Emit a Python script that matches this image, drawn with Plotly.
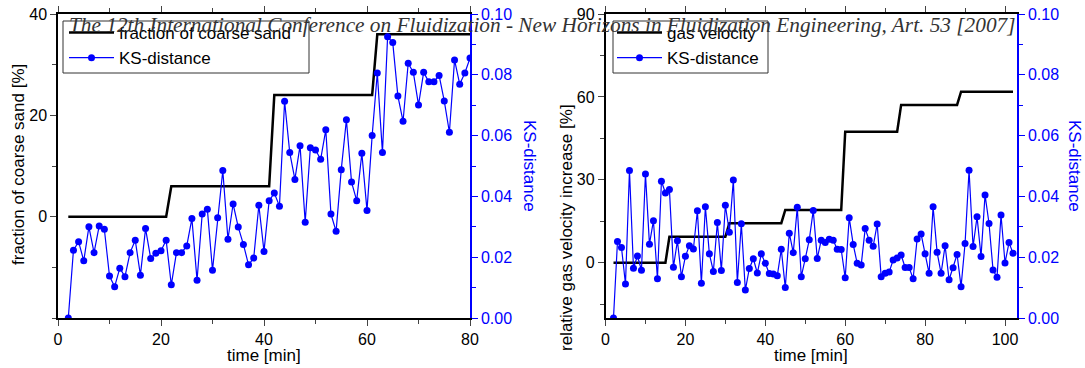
import plotly.graph_objects as go

W, H = 1085, 368

# ---- left panel: coarse sand fraction and KS-distance ----
sand_t = [2, 21, 22, 41, 42, 61, 62, 80]
sand_frac = [0, 0, 6, 6, 24, 24, 36, 36]

ks_left_t = list(range(2, 81))
ks_left = [
    0.0000, 0.0223, 0.0251, 0.0188, 0.0300, 0.0215, 0.0303, 0.0292, 0.0138, 0.0103,
    0.0164, 0.0136, 0.0215, 0.0256, 0.0141, 0.0294, 0.0196, 0.0213, 0.0221, 0.0256,
    0.0109, 0.0215, 0.0215, 0.0237, 0.0327, 0.0124, 0.0342, 0.0358, 0.0157, 0.0330,
    0.0485, 0.0259, 0.0375, 0.0299, 0.0242, 0.0175, 0.0197, 0.0371, 0.0219, 0.0386,
    0.0411, 0.0368, 0.0713, 0.0544, 0.0456, 0.0567, 0.0315, 0.0560, 0.0553, 0.0522,
    0.0619, 0.0342, 0.0285, 0.0488, 0.0652, 0.0447, 0.0386, 0.0542, 0.0354, 0.0600,
    0.0806, 0.0544, 0.0925, 0.0906, 0.0730, 0.0647, 0.0838, 0.0808, 0.0701, 0.0808,
    0.0777, 0.0777, 0.0798, 0.0714, 0.0611, 0.0849, 0.0769, 0.0806, 0.0855,
]

# ---- right panel: gas velocity increase and KS-distance ----
gas_t = [2, 15, 16, 30, 31, 44, 45, 59, 60, 73, 74, 88, 89, 102]
gas_inc = [0, 0, 9.4, 9.4, 14.3, 14.3, 19.1, 19.1, 47.4, 47.4, 57.1, 57.1, 61.9, 61.9]

ks_right_t = list(range(2, 103))
ks_right = [
    0.0000, 0.0252, 0.0232, 0.0112, 0.0485, 0.0164, 0.0204, 0.0157, 0.0474, 0.0243,
    0.0320, 0.0129, 0.0450, 0.0411, 0.0423, 0.0167, 0.0254, 0.0136, 0.0203, 0.0238,
    0.0227, 0.0353, 0.0114, 0.0366, 0.0211, 0.0153, 0.0314, 0.0156, 0.0371, 0.0282,
    0.0454, 0.0117, 0.0310, 0.0092, 0.0163, 0.0195, 0.0148, 0.0211, 0.0180, 0.0146,
    0.0145, 0.0139, 0.0226, 0.0100, 0.0279, 0.0215, 0.0364, 0.0136, 0.0195, 0.0257,
    0.0354, 0.0196, 0.0256, 0.0248, 0.0259, 0.0256, 0.0226, 0.0225, 0.0132, 0.0330,
    0.0242, 0.0180, 0.0174, 0.0294, 0.0256, 0.0236, 0.0309, 0.0136, 0.0147, 0.0151,
    0.0191, 0.0197, 0.0207, 0.0166, 0.0166, 0.0129, 0.0260, 0.0276, 0.0211, 0.0147,
    0.0366, 0.0216, 0.0147, 0.0238, 0.0126, 0.0165, 0.0209, 0.0103, 0.0245, 0.0486,
    0.0235, 0.0333, 0.0202, 0.0405, 0.0311, 0.0158, 0.0134, 0.0339, 0.0181, 0.0248,
    0.0213,
]

x_ticks_left = [0, 20, 40, 60, 80]
x_ticks_right = [0, 20, 40, 60, 80, 100]
y_ticks_left = [0, 20, 40]
y_ticks_right = [0, 30, 60, 90]
ks_ticks = [0.00, 0.02, 0.04, 0.06, 0.08, 0.10]

HEADER = ("The 12th International Conference on Fluidization - New Horizons in "
          "Fluidization Engineering, Art. 53 [2007]")

BLUE = "#0000ff"
SANS = "Liberation Sans, Arial, sans-serif"


def px(x):
    return x / W


def py(y):
    return 1 - y / H


fig = go.Figure()

fig.add_trace(go.Scatter(
    x=sand_t, y=sand_frac, xaxis="x", yaxis="y", mode="lines",
    line=dict(color="black", width=2.5), name="fraction of coarse sand",
    legend="legend", legendgroup="a",
))
fig.add_trace(go.Scatter(
    x=ks_left_t, y=ks_left, xaxis="x", yaxis="y2", mode="lines+markers",
    line=dict(color=BLUE, width=1.2), marker=dict(color=BLUE, size=7),
    name="KS-distance", legend="legend", legendgroup="b",
))
fig.add_trace(go.Scatter(
    x=gas_t, y=gas_inc, xaxis="x2", yaxis="y3", mode="lines",
    line=dict(color="black", width=2.5), name="gas velocity",
    legend="legend2", legendgroup="c",
))
fig.add_trace(go.Scatter(
    x=ks_right_t, y=ks_right, xaxis="x2", yaxis="y4", mode="lines+markers",
    line=dict(color=BLUE, width=1.2), marker=dict(color=BLUE, size=7),
    name="KS-distance", legend="legend2", legendgroup="d",
))

y_dom = [py(318), py(14)]
tickfont = dict(family=SANS, size=16, color="black")
bluefont = dict(family=SANS, size=16, color=BLUE)

common_x = dict(
    showgrid=False, zeroline=False, ticks="outside", ticklen=6, tickwidth=1.2,
    linecolor="black", linewidth=1.5, mirror="ticks", tickfont=tickfont,
    automargin=False,
)
common_y = dict(
    showgrid=False, zeroline=False, ticks="outside", ticklen=6, tickwidth=1.2,
    linecolor="black", linewidth=1.5, tickfont=tickfont, automargin=False,
)
common_ks = dict(
    showgrid=False, zeroline=False, ticks="outside", ticklen=6, tickwidth=1.2,
    linecolor=BLUE, linewidth=1.5, tickcolor=BLUE, tickfont=bluefont,
    range=[0, 0.1], tickmode="array", tickvals=ks_ticks, tickformat=".2f",
    side="right", automargin=False,
    minor=dict(dtick=0.01, tick0=0, ticks="outside", ticklen=4, tickcolor=BLUE),
)

legend_style = dict(
    xanchor="left", yanchor="top", bgcolor="rgba(0,0,0,0)", borderwidth=0,
    font=dict(family=SANS, size=17, color="black"),
    traceorder="grouped", tracegroupgap=0, itemwidth=45,
)

fig.update_layout(
    width=W, height=H, autosize=False,
    margin=dict(l=0, r=0, t=0, b=0),
    paper_bgcolor="white", plot_bgcolor="white",
    xaxis=dict(domain=[px(58), px(470)], range=[0, 80], anchor="y",
               tickmode="array", tickvals=x_ticks_left,
               minor=dict(dtick=10, tick0=0, ticks="outside", ticklen=4),
               **common_x),
    yaxis=dict(domain=y_dom, range=[-20, 40], anchor="x",
               tickmode="array", tickvals=y_ticks_left,
               minor=dict(dtick=10, tick0=0, ticks="outside", ticklen=4),
               **common_y),
    yaxis2=dict(overlaying="y", anchor="x", **common_ks),
    xaxis2=dict(domain=[px(605.5), px(1017)], range=[0, 103], anchor="y3",
                tickmode="array", tickvals=x_ticks_right,
                minor=dict(dtick=10, tick0=0, ticks="outside", ticklen=4),
                **common_x),
    yaxis3=dict(domain=y_dom, range=[-20, 90], anchor="x2",
                tickmode="array", tickvals=y_ticks_right,
                minor=dict(dtick=15, tick0=0, ticks="outside", ticklen=4),
                **common_y),
    yaxis4=dict(overlaying="y3", anchor="x2", **common_ks),
    legend=dict(x=px(64), y=py(15), **legend_style),
    legend2=dict(x=px(612), y=py(15), **legend_style),
)

# legend frames
for x0, x1 in [(63, 309), (613, 768)]:
    fig.add_shape(
        type="rect", xref="paper", yref="paper",
        x0=px(x0), x1=px(x1), y0=py(73), y1=py(21),
        line=dict(color="#333", width=1), fillcolor="rgba(0,0,0,0)",
    )

titles = [
    ("fraction of coarse sand [%]", 18, 165, -90, "black"),
    ("KS-distance", 530, 166, 90, BLUE),
    ("time [min]", 264, 355, 0, "black"),
    ("relative gas velocity increase [%]", 566, 228, -90, "black"),
    ("KS-distance", 1075, 166, 90, BLUE),
    ("time [min]", 811, 355, 0, "black"),
]
for text, x, y, ang, col in titles:
    fig.add_annotation(
        text=text, x=px(x), y=py(y), xref="paper", yref="paper",
        xanchor="center", yanchor="middle", textangle=ang, showarrow=False,
        font=dict(family=SANS, size=17, color=col),
    )

fig.add_annotation(
    text="<i>" + HEADER + "</i>", x=px(67), y=py(25), xref="paper", yref="paper",
    xanchor="left", yanchor="middle", showarrow=False,
    font=dict(family="Liberation Serif, Times New Roman, serif", size=21.3, color="#333"),
)

fig.write_html("out.html")
